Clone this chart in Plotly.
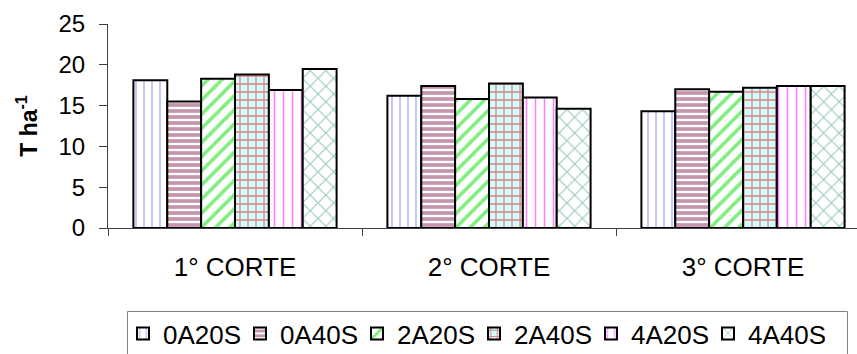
import plotly.graph_objects as go

categories = ["1° CORTE", "2° CORTE", "3° CORTE"]
series_names = ["0A20S", "0A40S", "2A20S", "2A40S", "4A20S", "4A40S"]
values_0A20S = [18.1, 16.2, 14.3]
values_0A40S = [15.5, 17.4, 17.0]
values_2A20S = [18.3, 15.8, 16.7]
values_2A40S = [18.8, 17.7, 17.2]
values_4A20S = [16.9, 16.0, 17.4]
values_4A40S = [19.5, 14.6, 17.4]
y_ticks = [0, 5, 10, 15, 20, 25]

series_values = [values_0A20S, values_0A40S, values_2A20S, values_2A40S, values_4A20S, values_4A40S]
patterns = [
    dict(shape="|", fgcolor="#8080FF", bgcolor="white", size=8, solidity=0.22),
    dict(shape="-", fgcolor="#8B2A5C", bgcolor="white", size=6, solidity=0.62),
    dict(shape="/", fgcolor="#00DD00", bgcolor="white", size=10, solidity=0.35),
    dict(shape="+", fgcolor="#FF0000", bgcolor="#CCFFFF", size=8, solidity=0.3),
    dict(shape="|", fgcolor="#FF00FF", bgcolor="white", size=9, solidity=0.17),
    dict(shape="x", fgcolor="#339966", bgcolor="white", size=11, solidity=0.2),
]

FONT = "Liberation Sans, Arial, sans-serif"

fig = go.Figure()
for name, vals, pat in zip(series_names, series_values, patterns):
    fig.add_trace(go.Bar(
        name=name, x=categories, y=vals,
        marker=dict(color="white", pattern=pat, line=dict(color="black", width=2)),
    ))

W, H = 857, 354
L, T, B = 108, 24, 126
plot_w = W - L
plot_h = H - T - B
cat_w = 254.0
x_end = -0.5 + plot_w / cat_w


def px_x(p):
    return (p - L) / plot_w


def px_y(p):
    return (T + plot_h - p) / plot_h


fig.update_layout(
    width=W, height=H,
    margin=dict(l=L, r=0, t=T, b=B, pad=0, autoexpand=False),
    paper_bgcolor="white", plot_bgcolor="white",
    barmode="group", bargap=0.2, bargroupgap=0,
    font=dict(family=FONT, color="black"),
    showlegend=True,
    legend=dict(
        orientation="h", x=px_x(123), xanchor="left",
        y=px_y(310), yanchor="top",
        font=dict(size=26, family=FONT, color="black"),
        borderwidth=0, bgcolor="rgba(0,0,0,0)",
        itemwidth=30, traceorder="normal",
        entrywidth=72, entrywidthmode="pixels",
    ),
    shapes=[dict(
        type="rect", xref="paper", yref="paper",
        x0=px_x(127.5), x1=px_x(847.5), y0=px_y(311.5), y1=px_y(362),
        line=dict(color="#808080", width=1), fillcolor="rgba(0,0,0,0)",
    )],
    xaxis=dict(
        type="category", range=[-0.5, x_end], tickson="boundaries",
        ticks="outside", ticklen=7, tickcolor="#404040", tickwidth=1,
        showline=True, linecolor="#404040", linewidth=1,
        tickfont=dict(size=26, family=FONT, color="black"),
        ticklabelstandoff=16,
        showgrid=False, zeroline=False,
    ),
    yaxis=dict(
        range=[0, 25], tickvals=y_ticks, ticks="outside", ticklen=8,
        tickcolor="#404040", tickwidth=1,
        showline=True, linecolor="#404040", linewidth=1,
        tickfont=dict(size=24, family=FONT, color="black"),
        ticklabelstandoff=9,
        showgrid=False, zeroline=False,
        title=dict(text="<b>T ha<sup>-1</sup></b>", font=dict(size=23, family=FONT, color="black"), standoff=14),
    ),
)

fig.write_html(
    "out.html",
    config={"displayModeBar": False},
    post_script="document.body.style.margin='0';document.body.style.overflow='hidden';",
)
